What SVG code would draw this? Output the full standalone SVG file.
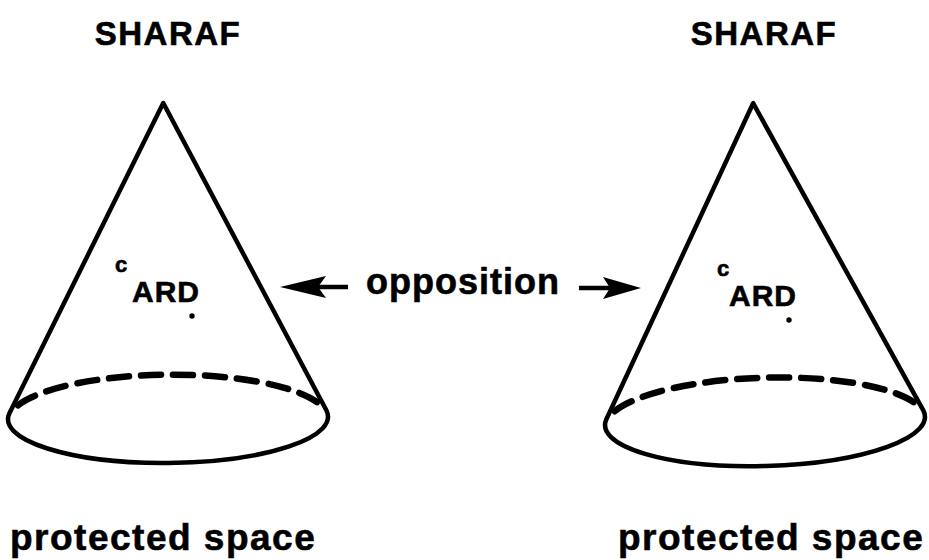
<svg xmlns="http://www.w3.org/2000/svg" width="929" height="560" viewBox="0 0 929 560">
  <style>
    .lbl { font-family: "Liberation Sans", Arial, sans-serif; font-weight: bold; fill: #000; stroke: #000; stroke-width: 0.6; }
    .title { font-size: 33px; letter-spacing: 1.5px; text-anchor: middle; }
    .space { font-size: 37px; letter-spacing: 1.5px; }
    .sup { font-size: 22px; }
    .ard { font-size: 30px; letter-spacing: 1px; }
    .opp { font-size: 36px; letter-spacing: 1px; }
    .edge { fill: none; stroke: #000; stroke-width: 4.5; stroke-linejoin: round; stroke-linecap: round; }
    .back { fill: none; stroke: #000; stroke-width: 6.5; stroke-dasharray: 20 12; stroke-linecap: round; }
    .shaft { stroke: #000; stroke-width: 4.5; }
  </style>
  <rect width="929" height="560" fill="#fff"/>

  <!-- left cone -->
  <g id="cone-left">
    <text class="lbl title" x="168" y="45">SHARAF</text>
    <g transform="translate(168 418) rotate(-0.5)">
      <path class="edge" d="M -2 -315 L -158.4 -6.4 A 160 45 0 1 0 158.4 -6.4 Z"/>
      <path class="back" d="M -150 -14 A 160 45 0 0 1 150 -14"/>
    </g>
    <text class="lbl sup" x="115" y="272">c</text>
    <text class="lbl ard" x="132" y="302">ARD</text>
    <circle cx="192" cy="316" r="2.7"/>
    <text class="lbl space" x="10" y="550">protected space</text>
  </g>

  <!-- right cone -->
  <g id="cone-right">
    <text class="lbl title" x="764" y="45">SHARAF</text>
    <g transform="translate(765 421) rotate(-1.6)">
      <path class="edge" d="M -3 -318 L -158.4 -6.4 A 160 45 0 1 0 158.4 -6.4 Z"/>
      <path class="back" d="M -150 -14 A 160 45 0 0 1 150 -14"/>
    </g>
    <text class="lbl sup" x="717" y="276">c</text>
    <text class="lbl ard" x="729" y="306">ARD</text>
    <circle cx="789" cy="320" r="2.7"/>
    <text class="lbl space" x="618" y="550">protected space</text>
  </g>

  <!-- opposition arrows -->
  <g id="connectors">
    <line class="shaft" x1="348" y1="287" x2="318" y2="287"/>
    <polygon points="280,287 326,276 318,287 326,298"/>
    <line class="shaft" x1="579" y1="288" x2="610" y2="288"/>
    <polygon points="641,288 603,277 610,288 603,299"/>
  </g>
  <text id="opposition" class="lbl opp" x="366" y="294">opposition</text>
</svg>
